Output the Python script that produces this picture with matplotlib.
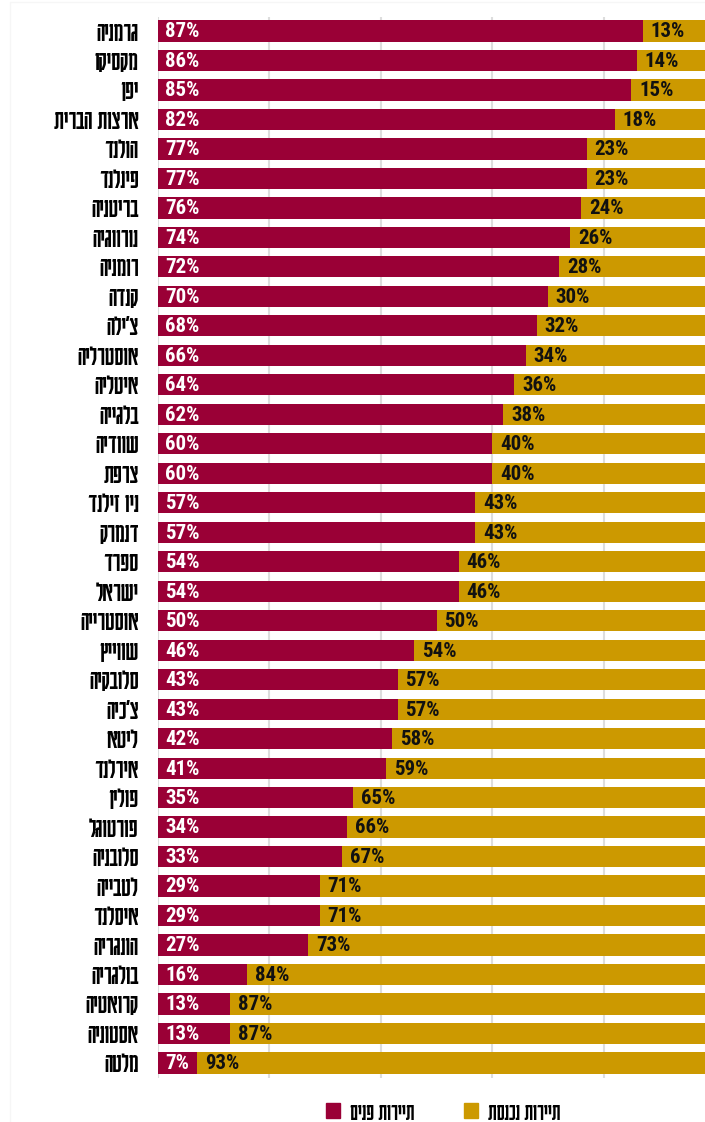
import matplotlib
matplotlib.use("Agg")
import matplotlib.pyplot as plt
from matplotlib.patches import Patch, Rectangle

countries = ["גרמניה", "מקסיקו", "יפן", "ארצות הברית", "הולנד", "פינלנד", "בריטניה",
             "נורווגיה", "רומניה", "קנדה", "צ'ילה", "אוסטרליה", "איטליה", "בלגייה",
             "שוודיה", "צרפת", "ניו זילנד", "דנמרק", "ספרד", "ישראל", "אוסטרייה",
             "שווייץ", "סלובקיה", "צ'כיה", "ליטא", "אירלנד", "פולין", "פורטוגל",
             "סלובניה", "לטבייה", "איסלנד", "הונגריה", "בולגריה", "קרואטיה",
             "אסטוניה", "מלטה"]
domestic = [87, 86, 85, 82, 77, 77, 76, 74, 72, 70, 68, 66, 64, 62, 60, 60, 57, 57,
            54, 54, 50, 46, 43, 43, 42, 41, 35, 34, 33, 29, 29, 27, 16, 13, 13, 7]
inbound = [13, 14, 15, 18, 23, 23, 24, 26, 28, 30, 32, 34, 36, 38, 40, 40, 43, 43,
           46, 46, 50, 54, 57, 57, 58, 59, 65, 66, 67, 71, 71, 73, 84, 87, 87, 93]
legend_labels = ["תיירות פנים", "תיירות נכנסת"]

RED = "#9A0036"
GOLD = "#CC9900"
HEB = ["Karantina", "DejaVu Sans"]
NUM = ["Roboto Condensed", "DejaVu Sans"]


def rtl(s):
    # matplotlib has no bidi support, so flip Hebrew strings by hand
    return s[::-1]


fig = plt.figure(figsize=(7.05, 11.22), dpi=100)
# faint frame around the graphic
fig.add_artist(Rectangle((10 / 705, -0.01), 1.0, 1 - 2 / 1122 + 0.01, transform=fig.transFigure,
                         fill=False, edgecolor="#f6f6f6", linewidth=1))
ax = fig.add_axes([158 / 705, 44 / 1122, 557 / 705, 1061 / 1122])

ys = list(range(len(countries)))
ax.barh(ys, domestic, height=0.72, color=RED, zorder=2)
ax.barh(ys, inbound, left=domestic, height=0.72, color=GOLD, zorder=2)

for y, d in zip(ys, domestic):
    ax.text(1.3, y + 0.03, f"{d}%", color="white", fontsize=15, fontweight="bold",
            family=NUM, va="center", ha="left", zorder=3)
for y, d, i in zip(ys, domestic, inbound):
    ax.text(d + 1.4, y + 0.03, f"{i}%", color="#111111", fontsize=15, fontweight="bold",
            family=NUM, va="center", ha="left", zorder=3)

ax.set_xlim(0, 100)
ax.set_ylim(len(countries) - 0.49, -0.475)
ax.set_xticks([0, 20, 40, 60, 80, 100])
ax.set_xticklabels([])
ax.set_yticks(ys)
ax.set_yticklabels([rtl(c) for c in countries], family=HEB, fontsize=20.5)
ax.tick_params(axis="both", length=0)
ax.tick_params(axis="y", pad=14)
ax.grid(axis="x", color="#dddddd", linewidth=1.5, zorder=0)
for s in ax.spines.values():
    s.set_visible(False)

handles = [Patch(color=RED), Patch(color=GOLD)]
fig.legend(handles, [rtl(t) for t in legend_labels], loc="center",
           bbox_to_anchor=(443 / 705, 1 - 1112 / 1122), ncol=2, frameon=False,
           prop={"family": HEB, "size": 18}, handlelength=0.55,
           handleheight=0.55, columnspacing=2.0, handletextpad=0.4)

plt.savefig("out.png", dpi=100)
